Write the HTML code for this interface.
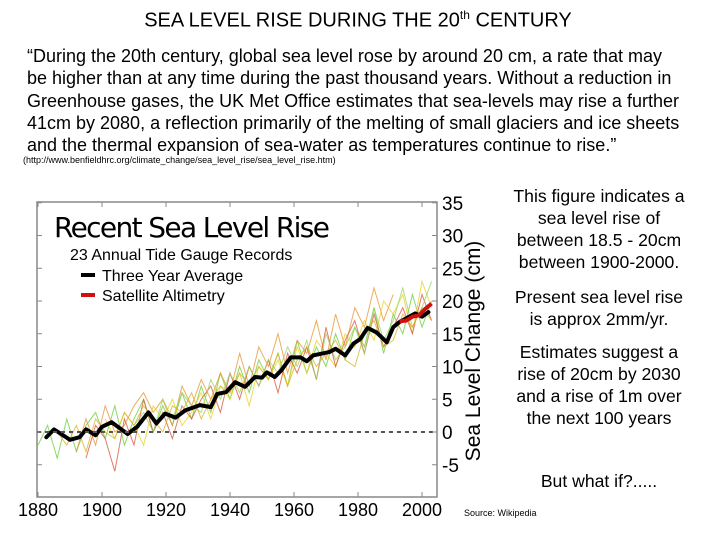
<!DOCTYPE html>
<html><head><meta charset="utf-8">
<style>
body{margin:0;background:#fff;}
#slide{position:relative;width:720px;height:540px;overflow:hidden;font-family:"Liberation Sans",Arial,sans-serif;color:#000;}
.t{position:absolute;white-space:nowrap;}
</style></head>
<body>
<div id="slide">
<div class="t" style="left:0;width:716px;text-align:center;top:8px;font-size:20px;">SEA LEVEL RISE DURING THE 20<sup style="font-size:12px;">th</sup> CENTURY</div>
<div class="t" style="left:27px;top:45px;font-size:18px;line-height:22.3px;">“During the 20th century, global sea level rose by around 20 cm, a rate that may<br>be higher than at any time during the past thousand years. Without a reduction in<br>Greenhouse gases, the UK Met Office estimates that sea-levels may rise a further<br>41cm by 2080, a reflection primarily of the melting of small glaciers and ice sheets<br>and the thermal expansion of sea-water as temperatures continue to rise.”</div>
<div class="t" style="left:23px;top:155px;font-size:9px;">(http://www.benfieldhrc.org/climate_change/sea_level_rise/sea_level_rise.htm)</div>
<div class="t" style="left:480px;width:238px;text-align:center;top:185px;font-size:17.6px;line-height:22px;">This figure indicates a<br>sea level rise of<br>between 18.5 - 20cm<br>between 1900-2000.</div>
<div class="t" style="left:480px;width:238px;text-align:center;top:286px;font-size:17.6px;line-height:22px;">Present sea level rise<br>is approx 2mm/yr.</div>
<div class="t" style="left:480px;width:238px;text-align:center;top:341px;font-size:17.6px;line-height:22px;">Estimates suggest a<br>rise of 20cm by 2030<br>and a rise of 1m over<br>the next 100 years</div>
<div class="t" style="left:480px;width:238px;text-align:center;top:471px;font-size:17.6px;">But what if?.....</div>
<div class="t" style="left:464px;top:508px;font-size:9px;">Source: Wikipedia</div>
<svg id="chart" width="720" height="540" style="position:absolute;left:0;top:0;"></svg>
</div>
<script>
const years3=[];for(let y=1880;y<=2003;y+=3)years3.push(y);
const N=null;
const gauge1=[-2,1,-4,2,-3,1,3,-1,4,-2,2,5,0,4,1,6,2,7,3,9,5,10,6,11,8,12,7,14,9,13,10,15,11,16,13,19,12,18,15,21,16,20];
const gauge2=[N,N,N,N,-3,2,-2,4,0,1,4,6,3,5,1,7,4,8,5,9,6,12,7,13,10,15,9,14,12,17,11,18,13,19,16,22,17,21,N,N,N,N];
const gauge3=[N,N,N,N,N,N,N,2,-1,3,1,-2,4,2,5,1,3,6,2,7,5,9,4,10,8,11,7,13,9,14,12,10,15,13,17,14,20,18,21,15,23,19];
const gauge4=[N,N,N,N,N,-4,1,-1,-6,2,-2,5,0,3,-1,4,2,5,7,3,9,5,10,7,11,6,12,9,13,8,16,10,14,17,12,18,13,16,19,15,21,17];
const gauge5=[N,N,N,N,N,N,N,N,N,N,1,3,0,5,2,6,4,3,8,5,9,6,10,7,11,9,13,10,14,8,15,11,13,16,12,19,14,17,22,16,19,23];
const gauge6=[N,N,0,-2,1,-3,2,0,-1,3,1,4,2,0,4,3,6,2,5,7,6,9,7,10,8,12,7,11,13,10,12,14,11,10,15,17,13,14,18,16,19,17];
const gaugeColors=["#6c3","#e8902a","#e6d21a","#d9503a","#9ad060","#d8b020"];
const avgYears=[1882.6,1885,1890,1893,1895,1898,1900,1903,1908,1911,1914.5,1917,1919.7,1923,1926,1930.6,1934,1936,1938.8,1941.6,1944.7,1947.8,1950,1951.5,1954,1956,1959,1962,1964,1966,1968,1971,1973,1976,1978.6,1980.7,1983,1985.8,1989,1991,1993,1997.9,2000,2002];
const avgValues=[-0.8,0.4,-1.2,-0.8,0.4,-0.5,0.8,1.5,-0.3,0.8,3,1.3,2.8,2.2,3.3,4.1,3.8,5.8,6.1,7.6,6.9,8.4,8.3,9.1,8.4,9.4,11.4,11.4,10.8,11.7,11.9,12.2,12.7,11.7,13.5,14.2,15.9,15.2,13.7,16,16.8,18.1,17.6,18.3];
const satYears=[1993,1995,1997,1999,2001,2003];
const satValues=[16.9,17,17.6,17.8,18.8,19.6];
const xTicks=[1880,1900,1920,1940,1960,1980,2000];
const yTicks=[-5,0,5,10,15,20,25,30,35];

const svg=document.getElementById('chart');const NS='http://www.w3.org/2000/svg';
const X0=37,X1=437,Y0=202,Y1=497;
const xs=y=>38+(y-1880)*3.2;
const ys=v=>432-v*6.55;
function mk(tag,attrs,parent){const e=document.createElementNS(NS,tag);for(const k in attrs)e.setAttribute(k,attrs[k]);(parent||svg).appendChild(e);return e;}
const frame=mk('rect',{x:X0,y:Y0,width:X1-X0,height:Y1-Y0,fill:'#fff',stroke:'#888','stroke-width':1.5});


const clip=mk('clipPath',{id:'pc'});mk('rect',{x:X0,y:Y0,width:X1-X0,height:Y1-Y0},clip);
const g=mk('g',{'clip-path':'url(#pc)'});
const gauges=[gauge1,gauge2,gauge3,gauge4,gauge5,gauge6];
gauges.forEach((arr,i)=>{
  let d='';let pen=false;
  arr.forEach((v,j)=>{if(v===null){pen=false;return;}d+=(pen?'L':'M')+xs(years3[j]).toFixed(1)+','+ys(v).toFixed(1);pen=true;});
  const p=mk('path',{d:d,fill:'none',stroke:gaugeColors[i],'stroke-width':1,opacity:0.75},g);
  
  
});
const zl=mk('line',{x1:X0,x2:X1,y1:ys(0),y2:ys(0),stroke:'#555','stroke-width':2,'stroke-dasharray':'4,4'});


const avg=mk('polyline',{points:avgYears.map((y,i)=>xs(y)+','+ys(avgValues[i])).join(' '),fill:'none',stroke:'#000','stroke-width':4,'stroke-linejoin':'round','stroke-linecap':'round'},g);


const sat=mk('polyline',{points:satYears.map((y,i)=>xs(y)+','+ys(satValues[i])).join(' '),fill:'none',stroke:'#d01010','stroke-width':4,'stroke-linejoin':'round'},g);


xTicks.forEach(t=>{
  mk('line',{x1:xs(t),x2:xs(t),y1:Y1,y2:Y1-5,stroke:'#888'});
  mk('line',{x1:xs(t),x2:xs(t),y1:Y0,y2:Y0+5,stroke:'#888'});
  const tx=mk('text',{x:xs(t),y:516,'text-anchor':'middle','font-size':18,'font-family':'Liberation Sans, sans-serif'});
  tx.textContent=t;
  
  
});
yTicks.forEach(t=>{
  mk('line',{x1:X1,x2:X1-5,y1:ys(t),y2:ys(t),stroke:'#888'});
  mk('line',{x1:X0,x2:X0+5,y1:ys(t),y2:ys(t),stroke:'#888'});
  const tx=mk('text',{x:442,y:ys(t)+7,'font-size':19,'font-family':'Liberation Sans, sans-serif'});
  tx.textContent=t;
  
  
});
const yt=mk('text',{x:0,y:0,transform:'translate(480,351) rotate(-90)','text-anchor':'middle','font-size':21,'font-family':'Liberation Sans, sans-serif'});
yt.textContent='Sea Level Change (cm)';


const ct=mk('text',{x:54,y:237,'font-size':28,'font-family':'DejaVu Sans, Liberation Sans, sans-serif',textLength:276});
ct.textContent='Recent Sea Level Rise';


const st=mk('text',{x:70,y:260,'font-size':16,'font-family':'Liberation Sans, sans-serif'});
st.textContent='23 Annual Tide Gauge Records';


[['Three Year Average','#000',275],['Satellite Altimetry','#d01010',295]].forEach(([lab,c,y],i)=>{
  mk('line',{x1:81,x2:95,y1:y,y2:y,stroke:c,'stroke-width':4});
  const tx=mk('text',{x:102,y:y+6,'font-size':16,'font-family':'Liberation Sans, sans-serif'});
  tx.textContent=lab;
  
  
});
</script>
</body></html>
